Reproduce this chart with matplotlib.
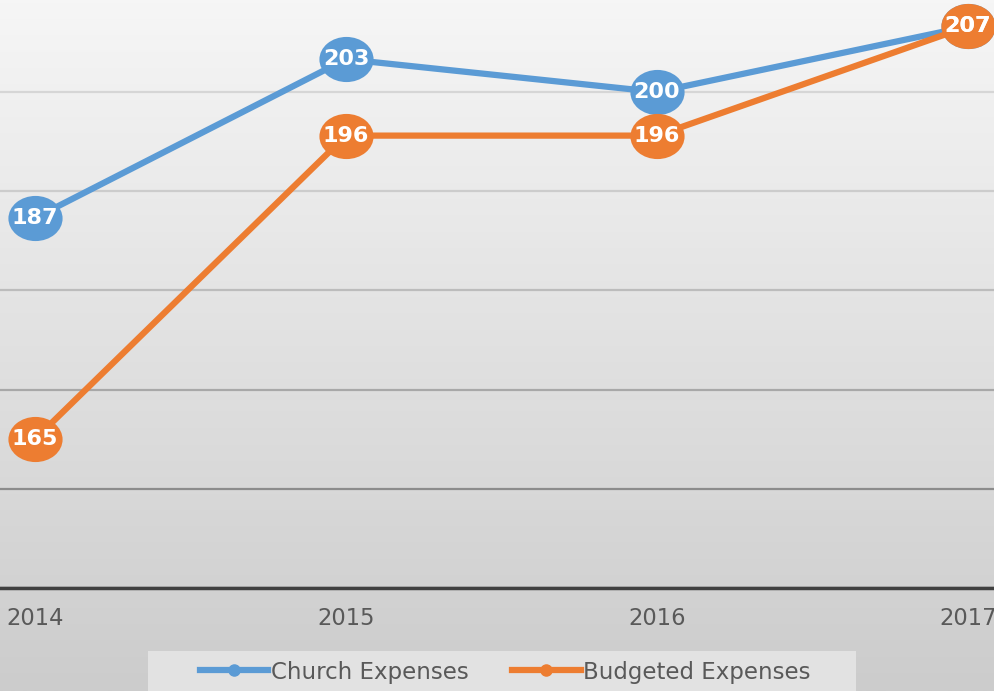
import numpy as np
import matplotlib.pyplot as plt
from matplotlib.patches import Rectangle
from matplotlib.path import Path

years = ["2014", "2015", "2016", "2017"]
church = [187.3, 203.3, 200.0, 206.6]
budgeted = [165.0, 195.6, 195.6, 206.6]
y_ticks = [150, 160, 170, 180, 190, 200]

blue = "#5b9bd5"
orange = "#ed7d31"

# ellipse marker (a bit wider than tall)
circ = Path.unit_circle()
ellipse = Path(circ.vertices * np.array([1.2, 1.0]), circ.codes)

fig = plt.figure(figsize=(9.95, 6.91), dpi=100)

# background gradient
bg = fig.add_axes([0, 0, 1, 1], zorder=-10)
grad = np.linspace(0.965, 0.80, 256).reshape(-1, 1)
bg.imshow(np.dstack([grad, grad, grad]), aspect="auto", extent=[0, 1, 0, 1])
bg.set_axis_off()

ax = fig.add_axes([0, 1 - 588 / 691, 1, 588 / 691])
ax.patch.set_alpha(0)
x = np.arange(len(years))

ax.set_xlim(-0.1125, 3.087)
ax.set_ylim(150, 209.27)
ax.set_yticks(y_ticks)
ax.yaxis.grid(True, linewidth=1.6, zorder=0)
grid_cols = ["#4d4d4d", "#8c8c8c", "#a8a8a8", "#bcbcbc", "#cccccc", "#d6d6d6"]
for gl, c in zip(ax.get_ygridlines(), grid_cols):
    gl.set_color(c)
ax.tick_params(axis="y", left=False, labelleft=False)
ax.set_xticks(x)
ax.set_xticklabels(years, fontsize=16.3, color="#595959", family="DejaVu Sans")
ax.tick_params(axis="x", length=0, pad=14)
for s in ["top", "right", "left"]:
    ax.spines[s].set_visible(False)
ax.spines["bottom"].set_color("#404040")
ax.spines["bottom"].set_linewidth(2.5)

for vals, col, name in [(church, blue, "Church Expenses"), (budgeted, orange, "Budgeted Expenses")]:
    ax.plot(x, vals, color=col, linewidth=4.5, marker=ellipse, markersize=39,
            markeredgewidth=0, clip_on=False, zorder=3, label=name)
    for xi, v in zip(x, vals):
        ax.text(xi, v, f"{v:.0f}", color="white", fontsize=16, fontweight="bold",
                family="DejaVu Sans", ha="center", va="center", zorder=5, clip_on=False)

# legend box
fig.patches.append(Rectangle((148 / 995, 0), 708 / 995, 40 / 691, transform=fig.transFigure,
                             facecolor="#e2e2e2", edgecolor="none", zorder=1))
h1, = ax.plot([], [], color=blue, linewidth=4.5, marker="o", markersize=8)
h2, = ax.plot([], [], color=orange, linewidth=4.5, marker="o", markersize=8)
leg = fig.legend([h1, h2], ["Church Expenses", "Budgeted Expenses"], loc="center",
                 bbox_to_anchor=(505 / 995, 19 / 691), ncol=2, frameon=False,
                 prop={"family": "DejaVu Sans", "size": 16.5}, labelcolor="#595959",
                 handlelength=3.0, handletextpad=0.1, columnspacing=1.9)

fig.savefig("out.png", dpi=100)
